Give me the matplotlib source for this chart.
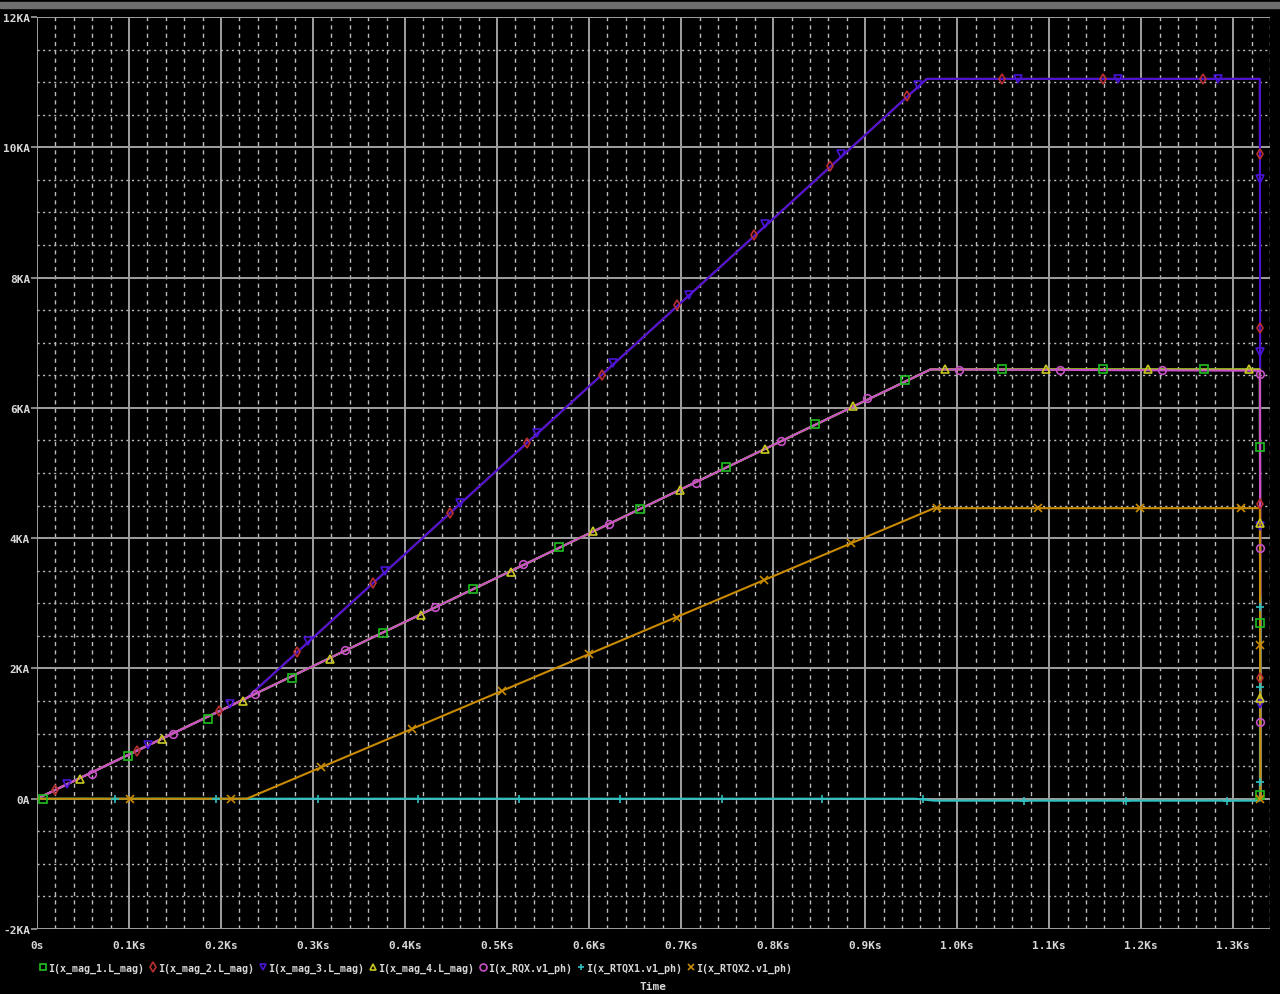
import matplotlib.pyplot as plt
from matplotlib.lines import Line2D
from matplotlib.patches import Rectangle
from matplotlib.ticker import FuncFormatter, MultipleLocator

# trace breakpoints (time in s, current in A)
t_rqx = [0, 971, 1329, 1329.6, 1332]
i_mag1 = [0, 6590, 6590, 0, 0]
i_rqx = [0, 6590, 6570, 0, 0]

t_mag3 = [0, 228, 967, 1329, 1329.6, 1332]
i_mag3 = [0, 1545, 11050, 11050, 0, 0]

t_rtqx1 = [0, 955, 975, 1329, 1329.3, 1329.6, 1332]
i_rtqx1 = [0, 0, -30, -30, 3100, 0, 0]

t_rtqx2 = [0, 228, 975, 1329, 1329.6, 1332]
i_rtqx2 = [0, 0, 4460, 4460, 0, 0]

# marker points along each trace
mk_mag1_t = [6, 99, 186, 277, 376, 474, 567, 655, 749, 845, 943, 1049, 1159, 1268,
             1329.5, 1329.5, 1329.5]
mk_mag1_i = [0, 650, 1230, 1860, 2540, 3220, 3860, 4450, 5090, 5750, 6430, 6590, 6590, 6590,
             5400, 2690, 50]

mk_mag2_t = [20, 109, 198, 283, 365, 449, 532, 614, 696, 779, 862, 945, 1049, 1158, 1267,
             1329.5, 1329.5, 1329.5, 1329.5]
mk_mag2_i = [140, 740, 1340, 2250, 3310, 4380, 5460, 6510, 7580, 8650, 9720, 10780, 11050, 11050, 11050,
             9890, 7220, 4520, 1860]

mk_mag3_t = [33, 121, 210, 295, 378, 460, 543, 626, 709, 791, 874, 957, 1066, 1175, 1284,
             1329.5, 1329.5, 1329.5, 1329.5]
mk_mag3_i = [220, 820, 1450, 2420, 3490, 4540, 5620, 6690, 7740, 8830, 9900, 10960, 11050, 11050, 11050,
             9520, 6860, 4180, 1460]

mk_mag4_t = [47, 136, 224, 318, 417, 515, 604, 699, 791, 887, 987, 1097, 1207, 1317, 1329.5, 1329.5]
mk_mag4_i = [300, 910, 1500, 2150, 2820, 3480, 4110, 4740, 5370, 6030, 6590, 6590, 6590, 6590, 4230, 1540]

mk_rqx_t = [60, 148, 237, 335, 432, 528, 622, 716, 809, 902, 1002, 1112, 1223, 1329.5, 1329.5, 1329.5]
mk_rqx_i = [380, 1000, 1600, 2290, 2940, 3600, 4220, 4850, 5490, 6150, 6585, 6580, 6575, 6520, 3850, 1180]

mk_rtqx1_t = [85, 195, 305, 414, 524, 634, 744, 853, 963, 1073, 1183, 1293, 1329.5, 1329.5, 1329.5]
mk_rtqx1_i = [0, 0, 0, 0, 0, 0, 0, 0, 0, -30, -30, -30, 2940, 1720, 260]

mk_rtqx2_t = [101, 211, 309, 408, 505, 600, 695, 790, 885, 978, 1088, 1199, 1308, 1329.5, 1329.5]
mk_rtqx2_i = [0, 0, 490, 1070, 1650, 2220, 2780, 3350, 3920, 4460, 4460, 4460, 4460, 2360, 0]

labels = ["I(x_mag_1.L_mag)", "I(x_mag_2.L_mag)", "I(x_mag_3.L_mag)", "I(x_mag_4.L_mag)",
          "I(x_RQX.v1_ph)", "I(x_RTQX1.v1_ph)", "I(x_RTQX2.v1_ph)"]

traces = [
    (t_rqx, i_mag1, mk_mag1_t, mk_mag1_i, "#20c020", "s"),
    (t_mag3, i_mag3, mk_mag2_t, mk_mag2_i, "#b83030", "d"),
    (t_mag3, i_mag3, mk_mag3_t, mk_mag3_i, "#4a14d8", "v"),
    (t_rqx, i_mag1, mk_mag4_t, mk_mag4_i, "#c8c820", "^"),
    (t_rqx, i_rqx, mk_rqx_t, mk_rqx_i, "#c850c8", "o"),
    (t_rtqx1, i_rtqx1, mk_rtqx1_t, mk_rtqx1_i, "#30c0c0", "+"),
    (t_rtqx2, i_rtqx2, mk_rtqx2_t, mk_rtqx2_i, "#c88a00", "x"),
]

font = "DejaVu Sans Mono"
txt = "#d8d8d8"

fig = plt.figure(figsize=(12.8, 9.95), dpi=100, facecolor="black")
ax = fig.add_axes([37 / 1280, 65 / 995, 1233 / 1280, 912 / 995], facecolor="black")

handles = []
for n, (t, i, mt, mi, col, mk) in enumerate(traces):
    ax.plot(t, i, color=col, lw=1.5, zorder=2 + n * 0.01)
    ax.plot(mt, mi, ls="none", marker=mk, ms=5.5, mfc="none", mec=col, mew=1.2, zorder=3)
    handles.append(Line2D([], [], ls="none", marker=mk, ms=5, mfc="none", mec=col, mew=1.2))

ax.set_xlim(0, 1340)
ax.set_ylim(-2000, 12000)

ax.xaxis.set_major_locator(MultipleLocator(100))
ax.xaxis.set_minor_locator(MultipleLocator(20))
ax.yaxis.set_major_locator(MultipleLocator(2000))
ax.yaxis.set_minor_locator(MultipleLocator(500))

ax.xaxis.set_major_formatter(FuncFormatter(lambda v, p: "0s" if v == 0 else f"{v / 1000:.1f}Ks"))
ax.yaxis.set_major_formatter(FuncFormatter(lambda v, p: "0A" if v == 0 else f"{v / 1000:.0f}KA"))

ax.xaxis.grid(True, which="major", color="#a0a0a0", lw=1.4, ls="-")
ax.yaxis.grid(True, which="major", color="#a0a0a0", lw=1.4, ls="-")
ax.xaxis.grid(True, which="minor", color="#bcbcbc", lw=1.0, ls=(0, (3, 3)))
ax.yaxis.grid(True, which="minor", color="#bcbcbc", lw=1.0, ls=(0, (1.5, 2.5)))
ax.set_axisbelow(True)

for s in ax.spines.values():
    s.set_visible(False)

ax.tick_params(axis="y", which="major", length=4, width=1.2, color="#a0a0a0",
               labelcolor=txt, pad=1, labelsize=8)
ax.tick_params(axis="x", which="major", length=0, labelcolor=txt, pad=8, labelsize=8)
ax.tick_params(which="minor", length=0)
for lab in ax.get_xticklabels() + ax.get_yticklabels():
    lab.set_fontfamily(font)
    lab.set_fontweight("bold")

ax.set_xlabel("Time", color=txt, fontsize=8, family=font, fontweight="bold", labelpad=22)

fig.legend(handles, labels, loc="center left", bbox_to_anchor=(35 / 1280, 1 - 969 / 995),
           ncol=7, frameon=False, handlelength=0.5, handletextpad=0.35, columnspacing=0.55,
           borderpad=0, prop={"family": font, "size": 7.2, "weight": "bold"}, labelcolor=txt)

# window title strip
fig.patches.append(Rectangle((0, 1 - 9 / 995), 1, 6 / 995, transform=fig.transFigure,
                             color="#6e6e6e", zorder=0))

fig.savefig("out.png", dpi=100, facecolor="black")
